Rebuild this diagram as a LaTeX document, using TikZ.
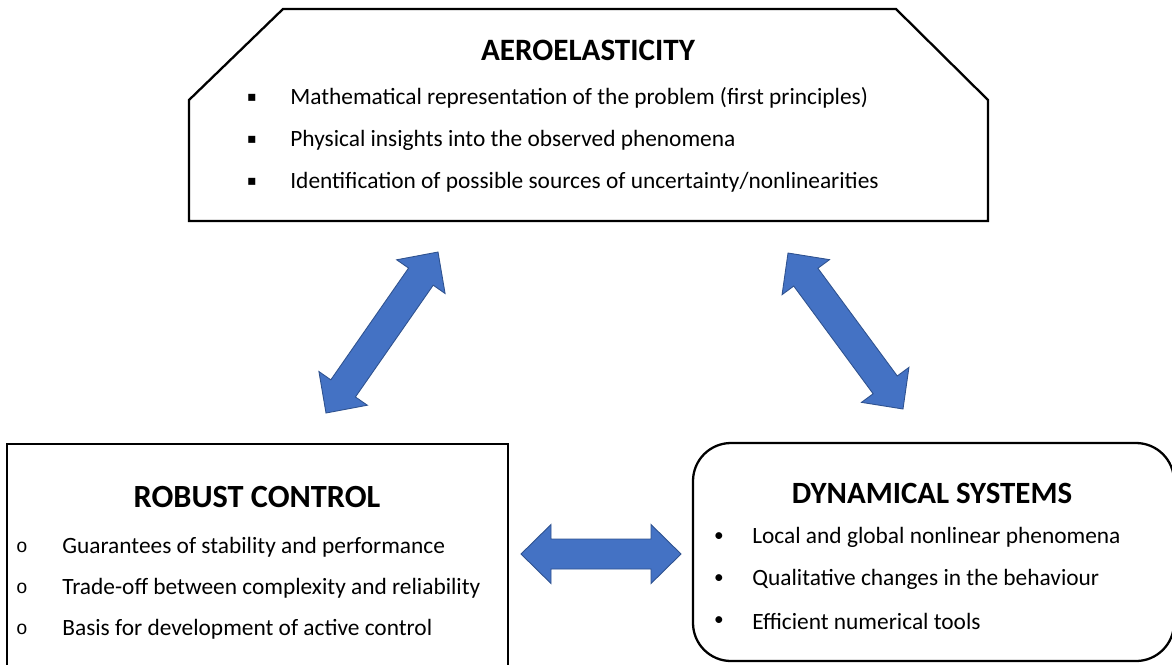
\documentclass[tikz,border=0pt]{standalone}
\usepackage{fontspec}
\setmainfont{Carlito}
\newfontfamily\symfont{DejaVu Sans}
\newfontfamily\monofont{Liberation Mono}
\usetikzlibrary{calc}
\definecolor{arrowblue}{HTML}{4472C4}
\definecolor{arrowedge}{HTML}{2F528F}
\tikzset{
  panel/.style={draw=black,line width=1.3pt,line join=miter},
  ttl/.style={font=\fontsize{#1}{20}\selectfont\bfseries,inner sep=0pt},
  item/.style={anchor=west,font=\fontsize{13.3}{16}\selectfont,inner sep=0pt},
  bul/.style={inner sep=0pt,font=\fontsize{11}{14}\selectfont},
  blk/.style={fill=arrowblue,draw=arrowedge,line width=0.5pt,line join=miter}
}
\begin{document}
\begin{tikzpicture}[x=0.02cm,y=-0.02cm]
  \clip (0,0) rectangle (1172,664);
  \draw[panel] (189,221)--(189,100)--(283,9)--(896,9)--(988,100)--(988,221)--cycle;
  \draw[panel] (7,700)--(7,444)--(508,444)--(508,700);
  \draw[panel,rounded corners=0.76cm] (693,443) rectangle (1174,661);

  \node[ttl=17.7] (aero) at (588,50) {AEROELASTICITY};
  \foreach \y/\t [count=\i] in {98/{Mathematical representation of the problem (first principles)},
      140/{Physical insights into the observed phenomena},
      182/{Identification of possible sources of uncertainty/nonlinearities}} {
    \node[bul] (ae-b\i) at (252,\y) {\symfont\fontsize{8}{10}\selectfont ▪};
    \node[item] (ae-\i) at (290,\y) {\t};
  }

  \node[ttl=18.4] (rc) at (257,497) {ROBUST CONTROL};
  \foreach \y/\t [count=\i] in {547/{Guarantees of stability and performance},
      588/{Trade-off between complexity and reliability},
      629/{Basis for development of active control}} {
    \node[bul] (rc-b\i) at (22,\y) {\monofont o};
    \node[item] (rc-\i) at (62,\y) {\t};
  }

  \node[ttl=17.6] (ds) at (932,493) {DYNAMICAL SYSTEMS};
  \foreach \y/\t [count=\i] in {537/{Local and global nonlinear phenomena},
      579/{Qualitative changes in the behaviour},
      621/{Efficient numerical tools}} {
    \node[bul] (ds-b\i) at (719,\y) {•};
    \node[item] (ds-\i) at (752,\y) {\t};
  }

  \coordinate (rc-a) at (326,413); \coordinate (rc-e) at (438,252);
  \coordinate (ds-a) at (788,253); \coordinate (ds-e) at (903,409);
  \coordinate (hz-a) at (521,554); \coordinate (hz-e) at (681,554);
  \foreach \s/\e in {rc-a/rc-e,ds-a/ds-e,hz-a/hz-e} {
    \coordinate (h1) at ($(\s)!0.6cm!(\e)$);
    \coordinate (h2) at ($(\e)!0.6cm!(\s)$);
    \draw[blk] (\s) -- ($(h1)!0.59cm!90:(\e)$) -- ($(h1)!0.3cm!90:(\e)$)
      -- ($(h2)!0.3cm!-90:(\s)$) -- ($(h2)!0.59cm!-90:(\s)$) -- (\e)
      -- ($(h2)!0.59cm!90:(\s)$) -- ($(h2)!0.3cm!90:(\s)$)
      -- ($(h1)!0.3cm!-90:(\e)$) -- ($(h1)!0.59cm!-90:(\e)$) -- cycle;
  }
\end{tikzpicture}
\end{document}
